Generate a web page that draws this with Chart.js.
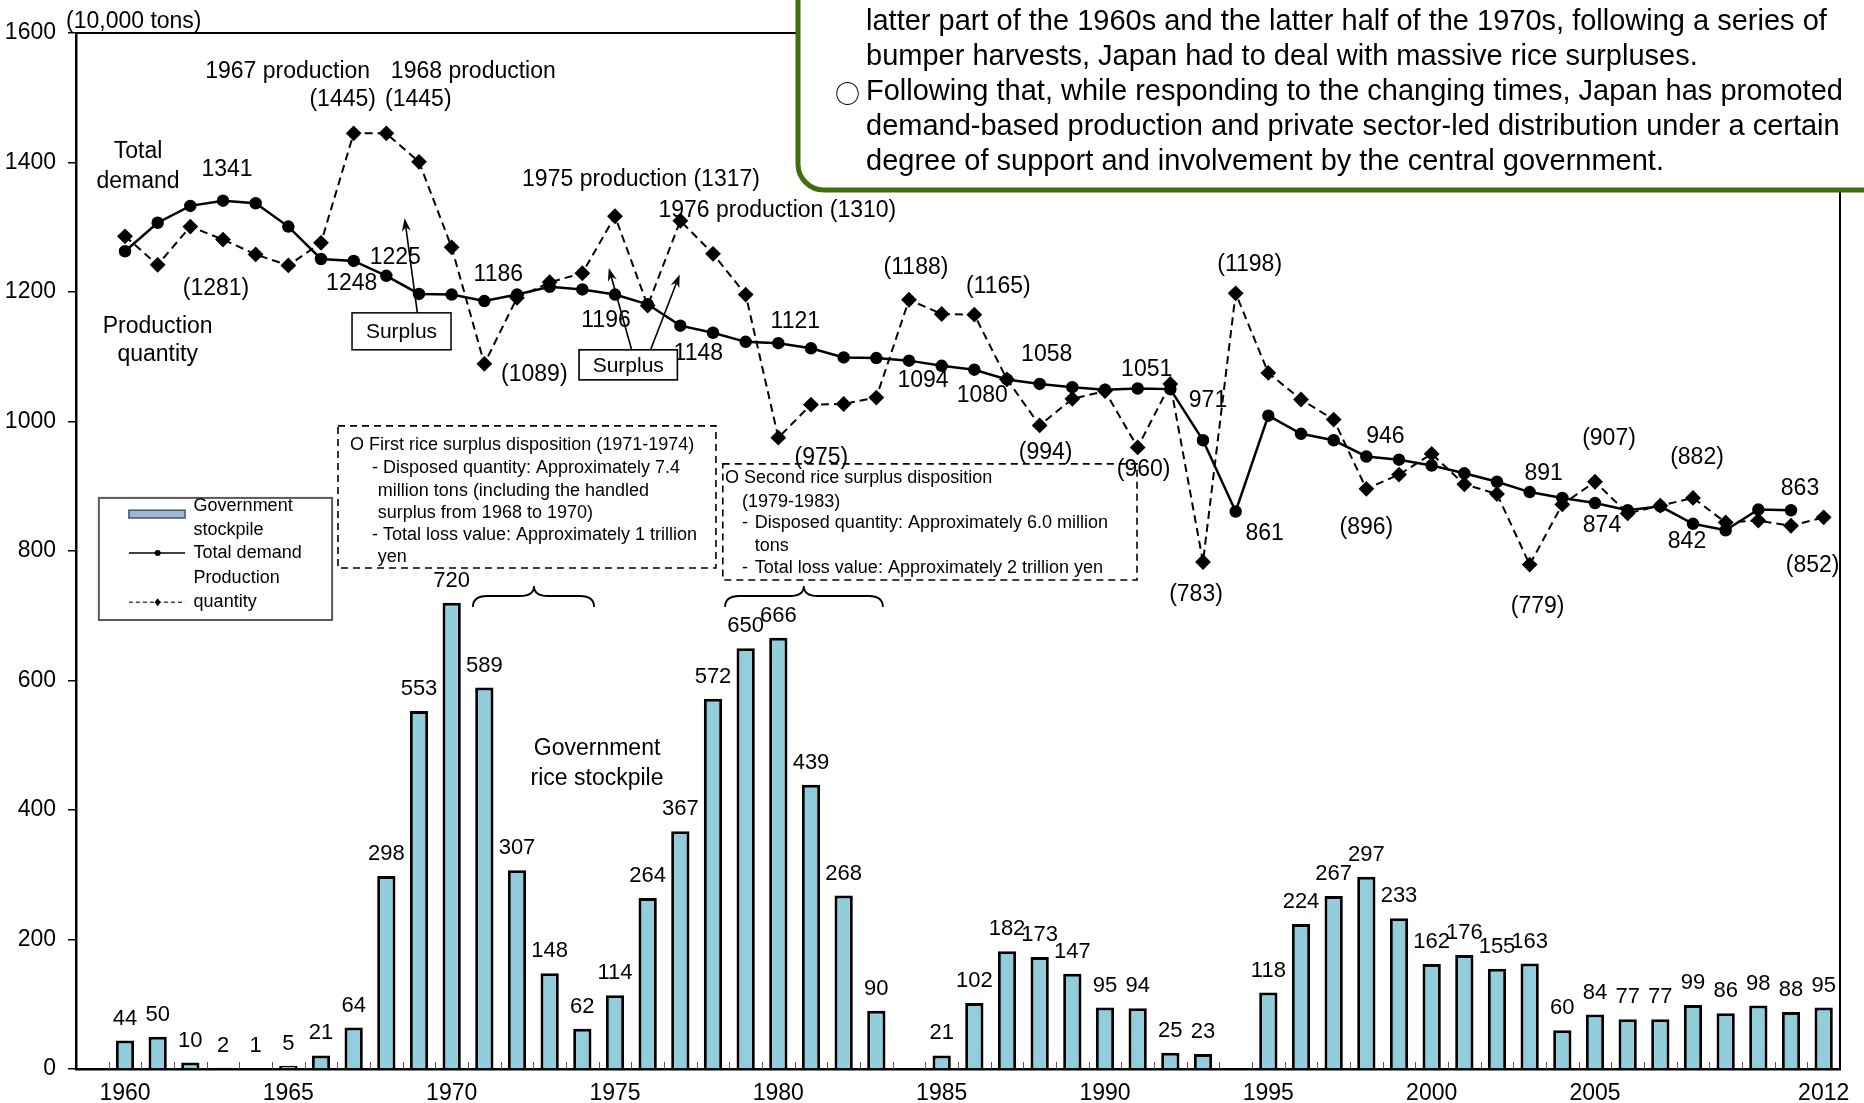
<!DOCTYPE html>
<html>
<head>
<meta charset="utf-8">
<title>Rice total demand, production and government stockpile</title>
<script src="https://cdn.jsdelivr.net/npm/chart.js@4.4.1/dist/chart.umd.min.js"></script>
<style>
  html, body { margin: 0; padding: 0; background: #ffffff; }
  #frame { position: relative; width: 1864px; height: 1103px; }
  canvas { display: block; }
</style>
</head>
<body>
<div id="frame"><canvas id="chart" width="1864" height="1103"></canvas></div>
<script>
// ---- data (10,000 tons) ----
const years = [1960, 1961, 1962, 1963, 1964, 1965, 1966, 1967, 1968, 1969,
               1970, 1971, 1972, 1973, 1974, 1975, 1976, 1977, 1978, 1979,
               1980, 1981, 1982, 1983, 1984, 1985, 1986, 1987, 1988, 1989,
               1990, 1991, 1992, 1993, 1994, 1995, 1996, 1997, 1998, 1999,
               2000, 2001, 2002, 2003, 2004, 2005, 2006, 2007, 2008, 2009,
               2010, 2011, 2012];

const xTickLabels = ['1960', '1965', '1970', '1975', '1980', '1985', '1990',
                     '1995', '2000', '2005', '2012'];

const stockpile = [44, 50, 10, 2, 1, 5, 21, 64, 298, 553,
                   720, 589, 307, 148, 62, 114, 264, 367, 572, 650,
                   666, 439, 268, 90, null, 21, 102, 182, 173, 147,
                   95, 94, 25, 23, null, 118, 224, 267, 297, 233,
                   162, 176, 155, 163, 60, 84, 77, 77, 99, 86,
                   98, 88, 95];

const totalDemand = [1263, 1307, 1333, 1341, 1337, 1301, 1251, 1248, 1225, 1197,
                     1196, 1186, 1196, 1208, 1204, 1196, 1181, 1148, 1137, 1123,
                     1121, 1113, 1099, 1098, 1094, 1086, 1080, 1065, 1058, 1053,
                     1049, 1051, 1050, 971, 861, 1009, 981, 971, 946, 941,
                     932, 920, 907, 891, 882, 874, 863, 869, 842, 832,
                     864, 863, null];

const production = [1286, 1242, 1301, 1281, 1258, 1241, 1276, 1445, 1445, 1401,
                    1269, 1089, 1191, 1215, 1229, 1317, 1179, 1310, 1259, 1196,
                    975, 1026, 1027, 1037, 1188, 1166, 1165, 1065, 994, 1035,
                    1047, 960, 1058, 783, 1198, 1075, 1034, 1003, 896, 918,
                    950, 903, 888, 779, 872, 907, 858, 870, 882, 844,
                    847, 839, 852];

// ---- value-label placement (pixel offsets from the marker) ----
const demandLabelSpots = [
  { yr: 1963, dx: 4, dy: -31 }, { yr: 1967, dx: -2, dy: 23 }, { yr: 1968, dx: 9, dy: -18 },
  { yr: 1971, dx: 14, dy: -26 }, { yr: 1975, dx: -9, dy: 26 }, { yr: 1977, dx: 18, dy: 28 },
  { yr: 1980, dx: 17, dy: -21 }, { yr: 1984, dx: 14, dy: 20 }, { yr: 1986, dx: 8, dy: 26 },
  { yr: 1988, dx: 7, dy: -29 }, { yr: 1991, dx: 9, dy: -19 }, { yr: 1993, dx: 5, dy: -40 },
  { yr: 1994, dx: 29, dy: 22 }, { yr: 1998, dx: 19, dy: -20 }, { yr: 2003, dx: 14, dy: -18 },
  { yr: 2005, dx: 7, dy: 23 }, { yr: 2008, dx: -6, dy: 18 }, { yr: 2011, dx: 9, dy: -22 }
];

const productionLabelSpots = [
  { yr: 1963, dx: -7, dy: 49 },
  { yr: 1967, dx: -11, dy: -34, head: '1967 production', hdx: -66, hdy: -62 },
  { yr: 1968, dx: 32, dy: -34, head: '1968 production', hdx: 87, hdy: -62 },
  { yr: 1971, dx: 50, dy: 11 },
  { yr: 1975, dx: 26, dy: -37, prefix: '1975 production ' },
  { yr: 1977, dx: 97, dy: -10, prefix: '1976 production ' },
  { yr: 1980, dx: 43, dy: 20 }, { yr: 1984, dx: 7, dy: -32 }, { yr: 1986, dx: 24, dy: -28 },
  { yr: 1988, dx: 6, dy: 27 }, { yr: 1991, dx: 6, dy: 22 }, { yr: 1993, dx: -7, dy: 33 },
  { yr: 1994, dx: 14, dy: -29 }, { yr: 1998, dx: 0, dy: 39 }, { yr: 2003, dx: 8, dy: 42 },
  { yr: 2005, dx: 14, dy: -43 }, { yr: 2008, dx: 4, dy: -40 }, { yr: 2012, dx: -11, dy: 48 }
];

// ---- helpers ----
const FAMILY = "'Liberation Sans', Arial, Helvetica, sans-serif";
const fnt = size => size + 'px ' + FAMILY;
const BAR_BLUE = '#92cddc';
const categories = [''].concat(years.map(String));   // leading empty slot
const pad = arr => [null].concat(arr);

function text(ctx, str, x, y, size, align, family) {
  ctx.font = family ? size + 'px ' + family : fnt(size);
  ctx.textAlign = align || 'center';
  ctx.textBaseline = 'middle';
  ctx.fillStyle = '#000';
  ctx.fillText(str, x, y);
}

function arrow(ctx, x1, y1, x2, y2) {
  const a = Math.atan2(y2 - y1, x2 - x1), L = 13, W = 4.5;
  ctx.beginPath();
  ctx.moveTo(x1, y1);
  ctx.lineTo(x2 - Math.cos(a) * L * 0.7, y2 - Math.sin(a) * L * 0.7);
  ctx.lineWidth = 1.6; ctx.strokeStyle = '#000'; ctx.stroke();
  ctx.beginPath();
  ctx.moveTo(x2, y2);
  ctx.lineTo(x2 - Math.cos(a) * L - Math.sin(a) * W, y2 - Math.sin(a) * L + Math.cos(a) * W);
  ctx.lineTo(x2 - Math.cos(a) * L * 0.7, y2 - Math.sin(a) * L * 0.7);
  ctx.lineTo(x2 - Math.cos(a) * L + Math.sin(a) * W, y2 - Math.sin(a) * L - Math.cos(a) * W);
  ctx.closePath();
  ctx.fillStyle = '#000'; ctx.fill();
}

function brace(ctx, x1, x2, xm, yEnd, yBody, yTip) {
  const r = 14;
  ctx.beginPath();
  ctx.moveTo(x1, yEnd);
  ctx.quadraticCurveTo(x1, yBody, x1 + r, yBody);
  ctx.lineTo(xm - r, yBody);
  ctx.quadraticCurveTo(xm, yBody, xm, yTip);
  ctx.quadraticCurveTo(xm, yBody, xm + r, yBody);
  ctx.lineTo(x2 - r, yBody);
  ctx.quadraticCurveTo(x2, yBody, x2, yEnd);
  ctx.lineWidth = 1.8; ctx.strokeStyle = '#000'; ctx.stroke();
}

function dashedRect(ctx, x1, y1, x2, y2) {
  ctx.save();
  ctx.setLineDash([7, 5]);
  ctx.lineWidth = 1.6; ctx.strokeStyle = '#000';
  ctx.strokeRect(x1, y1, x2 - x1, y2 - y1);
  ctx.restore();
}

// ---- drawing plugin: frame, inner ticks, labels and notes ----
const overlay = {
  id: 'overlay',
  beforeDatasetsDraw(chart) {
    const ctx = chart.ctx, a = chart.chartArea, xs = chart.scales.x;
    ctx.save();
    // top and right frame
    ctx.beginPath();
    ctx.moveTo(a.left, a.top); ctx.lineTo(a.right, a.top); ctx.lineTo(a.right, a.bottom);
    ctx.lineWidth = 2; ctx.strokeStyle = '#000'; ctx.stroke();
    // small inward tick marks between categories
    const half = (xs.getPixelForValue(1) - xs.getPixelForValue(0)) / 2;
    ctx.beginPath();
    for (let i = 1; i < categories.length; i++) {
      const x = Math.round(xs.getPixelForValue(i) - half) + 0.5;
      ctx.moveTo(x, a.bottom); ctx.lineTo(x, a.bottom - 7);
    }
    ctx.lineWidth = 1; ctx.strokeStyle = '#555'; ctx.stroke();
    ctx.restore();
  },
  afterDatasetsDraw(chart) {
    const ctx = chart.ctx, xs = chart.scales.x, ys = chart.scales.y;
    const X = yr => xs.getPixelForValue(yr - 1959);
    const Y = v => ys.getPixelForValue(v);
    ctx.save();

    // bar values
    const barMeta = chart.getDatasetMeta(0);
    stockpile.forEach((v, i) => {
      if (v === null) return;
      const el = barMeta.data[i + 1];
      text(ctx, String(v), el.x, el.y - 22, 22);
    });

    // total demand values
    const dMeta = chart.getDatasetMeta(1);
    demandLabelSpots.forEach(s => {
      const el = dMeta.data[s.yr - 1959];
      text(ctx, String(totalDemand[s.yr - 1960]), el.x + s.dx, el.y + s.dy, 23);
    });

    // production values
    const pMeta = chart.getDatasetMeta(2);
    productionLabelSpots.forEach(s => {
      const el = pMeta.data[s.yr - 1959];
      const v = production[s.yr - 1960];
      text(ctx, (s.prefix || '') + '(' + v + ')', el.x + s.dx, el.y + s.dy, 23);
      if (s.head) text(ctx, s.head, el.x + s.hdx, el.y + s.hdy, 23);
    });

    // series names
    text(ctx, 'Total', X(1960.4), Y(1417), 23);
    text(ctx, 'demand', X(1960.4), Y(1370), 23);
    text(ctx, 'Production', X(1961.0), Y(1146), 23);
    text(ctx, 'quantity', X(1961.0), Y(1103), 23);
    text(ctx, 'Government', X(1974.45), Y(494), 23);
    text(ctx, 'rice stockpile', X(1974.45), Y(448), 23);

    // surplus callouts
    ctx.lineWidth = 1.5; ctx.strokeStyle = '#000';
    ctx.fillStyle = '#fff';
    let bx1 = X(1966.95), by1 = Y(1167.8), bx2 = X(1969.98), by2 = Y(1110.7);
    ctx.fillRect(bx1, by1, bx2 - bx1, by2 - by1);
    ctx.strokeRect(bx1, by1, bx2 - bx1, by2 - by1);
    text(ctx, 'Surplus', (bx1 + bx2) / 2, (by1 + by2) / 2 + 1, 21);
    arrow(ctx, X(1968.95), by1, X(1968.56), Y(1314));

    bx1 = X(1973.9); by1 = Y(1110.7); bx2 = X(1976.91); by2 = Y(1064.3);
    ctx.fillStyle = '#fff';
    ctx.fillRect(bx1, by1, bx2 - bx1, by2 - by1);
    ctx.strokeRect(bx1, by1, bx2 - bx1, by2 - by1);
    text(ctx, 'Surplus', (bx1 + bx2) / 2, (by1 + by2) / 2 + 1, 21);
    arrow(ctx, X(1975.51), by1, X(1974.81), Y(1237));
    arrow(ctx, X(1976.09), by1, X(1976.98), Y(1227));

    // first disposition note
    dashedRect(ctx, X(1966.52), Y(993.2), X(1978.09), Y(773.7));
    text(ctx, 'O First rice surplus disposition (1971-1974)', X(1966.89), Y(963.8), 18, 'left');
    text(ctx, '- Disposed quantity: Approximately 7.4', X(1967.56), Y(928.3), 18, 'left');
    text(ctx, 'million tons (including the handled', X(1967.74), Y(892.7), 18, 'left');
    text(ctx, 'surplus from 1968 to 1970)', X(1967.74), Y(858.7), 18, 'left');
    text(ctx, '- Total loss value: Approximately 1 trillion', X(1967.56), Y(824.6), 18, 'left');
    text(ctx, 'yen', X(1967.74), Y(790.7), 18, 'left');

    // second disposition note
    dashedRect(ctx, X(1978.3), Y(934.5), X(1990.98), Y(755.2));
    text(ctx, 'O Second rice surplus disposition', X(1978.37), Y(912.8), 18, 'left');
    text(ctx, '(1979-1983)', X(1978.89), Y(875.7), 18, 'left');
    text(ctx, '-', X(1978.89), Y(843.3), 18, 'left');
    text(ctx, 'Disposed quantity: Approximately 6.0 million', X(1979.28), Y(843.3), 18, 'left');
    text(ctx, 'tons', X(1979.28), Y(807.7), 18, 'left');
    text(ctx, '-', X(1978.89), Y(773.7), 18, 'left');
    text(ctx, 'Total loss value: Approximately 2 trillion yen', X(1979.28), Y(773.7), 18, 'left');

    // braces over the disposition periods
    brace(ctx, X(1970.65), X(1974.36), X(1972.52), Y(713.5), Y(730.5), Y(746));
    brace(ctx, X(1978.37), X(1983.2), X(1980.78), Y(713.5), Y(730.5), Y(746));

    // legend
    const lx1 = X(1959.2), ly1 = Y(882), lx2 = X(1966.34), ly2 = Y(693.4);
    ctx.fillStyle = '#fff';
    ctx.fillRect(lx1, ly1, lx2 - lx1, ly2 - ly1);
    ctx.lineWidth = 2; ctx.strokeStyle = '#5a5a5a';
    ctx.strokeRect(lx1, ly1, lx2 - lx1, ly2 - ly1);
    const sx1 = X(1960.12), sx2 = X(1961.84), sm = X(1961.0), tx = X(1962.1);
    ctx.fillStyle = '#9bb9d3';
    ctx.fillRect(sx1, Y(863), sx2 - sx1, Y(851) - Y(863));
    ctx.lineWidth = 1.5; ctx.strokeStyle = '#44546a';
    ctx.strokeRect(sx1, Y(863), sx2 - sx1, Y(851) - Y(863));
    text(ctx, 'Government', tx, Y(869), 18, 'left');
    text(ctx, 'stockpile', tx, Y(833), 18, 'left');
    let yy = Y(797);
    ctx.beginPath(); ctx.moveTo(sx1, yy); ctx.lineTo(sx2, yy);
    ctx.lineWidth = 1.5; ctx.strokeStyle = '#000'; ctx.stroke();
    ctx.beginPath(); ctx.arc(sm, yy, 3, 0, Math.PI * 2); ctx.fillStyle = '#000'; ctx.fill();
    text(ctx, 'Total demand', tx, yy, 18, 'left');
    text(ctx, 'Production', tx, Y(758), 18, 'left');
    yy = Y(721);
    ctx.save(); ctx.setLineDash([4, 3]);
    ctx.beginPath(); ctx.moveTo(sx1, yy); ctx.lineTo(sx2, yy);
    ctx.lineWidth = 1.5; ctx.strokeStyle = '#444'; ctx.stroke(); ctx.restore();
    ctx.beginPath(); ctx.moveTo(sm, yy - 4); ctx.lineTo(sm + 3, yy); ctx.lineTo(sm, yy + 4); ctx.lineTo(sm - 3, yy);
    ctx.closePath(); ctx.fillStyle = '#000'; ctx.fill();
    text(ctx, 'quantity', tx, yy, 18, 'left');

    ctx.restore();
  },
  afterDraw(chart) {
    const ctx = chart.ctx, a = chart.chartArea;
    ctx.save();
    // unit label
    text(ctx, '(10,000 tons)', a.left - 10, a.top - 11, 23, 'left');

    // summary callout
    const L = 798, B = 190, R = 1890, T = -20, rad = 26;
    ctx.beginPath();
    ctx.moveTo(L, T);
    ctx.lineTo(L, B - rad);
    ctx.arcTo(L, B, L + rad, B, rad);
    ctx.lineTo(R, B);
    ctx.lineTo(R, T);
    ctx.closePath();
    ctx.fillStyle = '#fff'; ctx.fill();
    ctx.lineWidth = 5; ctx.strokeStyle = '#3f6f0c'; ctx.stroke();
    const lines = [
      'latter part of the 1960s and the latter half of the 1970s, following a series of',
      'bumper harvests, Japan had to deal with massive rice surpluses.',
      'Following that, while responding to the changing times, Japan has promoted',
      'demand-based production and private sector-led distribution under a certain',
      'degree of support and involvement by the central government.'
    ];
    const ly = [22, 57, 92, 127, 162];
    lines.forEach((s, i) => text(ctx, s, 866, ly[i], 29, 'left'));
    text(ctx, '○', 835, ly[2] + 1, 25, 'left', "'Noto Sans CJK JP', 'DejaVu Sans', sans-serif");
    ctx.restore();
  }
};

Chart.defaults.font.family = FAMILY;
Chart.defaults.color = '#000';

new Chart(document.getElementById('chart'), {
  type: 'bar',
  data: {
    labels: categories,
    datasets: [
      {
        type: 'bar',
        label: 'Government stockpile',
        data: pad(stockpile),
        backgroundColor: BAR_BLUE,
        borderColor: '#000',
        borderWidth: { top: 3, left: 3, right: 3, bottom: 0 },
        borderSkipped: 'bottom',
        barPercentage: 0.56,
        categoryPercentage: 1,
        order: 3
      },
      {
        type: 'line',
        label: 'Total demand',
        data: pad(totalDemand),
        borderColor: '#000',
        borderWidth: 2.5,
        pointStyle: 'circle',
        pointRadius: 5,
        pointBackgroundColor: '#000',
        pointBorderColor: '#000',
        tension: 0,
        order: 2
      },
      {
        type: 'line',
        label: 'Production quantity',
        data: pad(production),
        borderColor: '#000',
        borderWidth: 2,
        borderDash: [8, 5],
        pointStyle: 'rectRot',
        pointRadius: 6.5,
        pointBackgroundColor: '#000',
        pointBorderColor: '#000',
        tension: 0,
        order: 1
      }
    ]
  },
  options: {
    responsive: false,
    animation: false,
    devicePixelRatio: 1,
    layout: { padding: { top: 33, right: 24, left: 0, bottom: 0 } },
    plugins: { legend: { display: false }, tooltip: { enabled: false } },
    scales: {
      x: {
        grid: { display: false, drawTicks: false },
        border: { display: true, color: '#000', width: 2.5 },
        ticks: {
          autoSkip: false, maxRotation: 0, padding: 11,
          font: { size: 23 }, color: '#000',
          callback: function (value, index) {
            const lab = categories[index];
            return xTickLabels.includes(lab) ? lab : '';
          }
        },
        afterFit: s => { s.height = 34; }
      },
      y: {
        min: 0, max: 1600,
        grid: { drawOnChartArea: false, drawTicks: true, tickLength: 8, color: '#000', lineWidth: 1.5 },
        border: { display: true, color: '#000', width: 2.5 },
        ticks: { stepSize: 200, padding: 12, font: { size: 23 }, color: '#000',
                 callback: v => String(v) },
        afterFit: s => { s.width = 76; }
      }
    }
  },
  plugins: [overlay]
});
</script>
</body>
</html>
